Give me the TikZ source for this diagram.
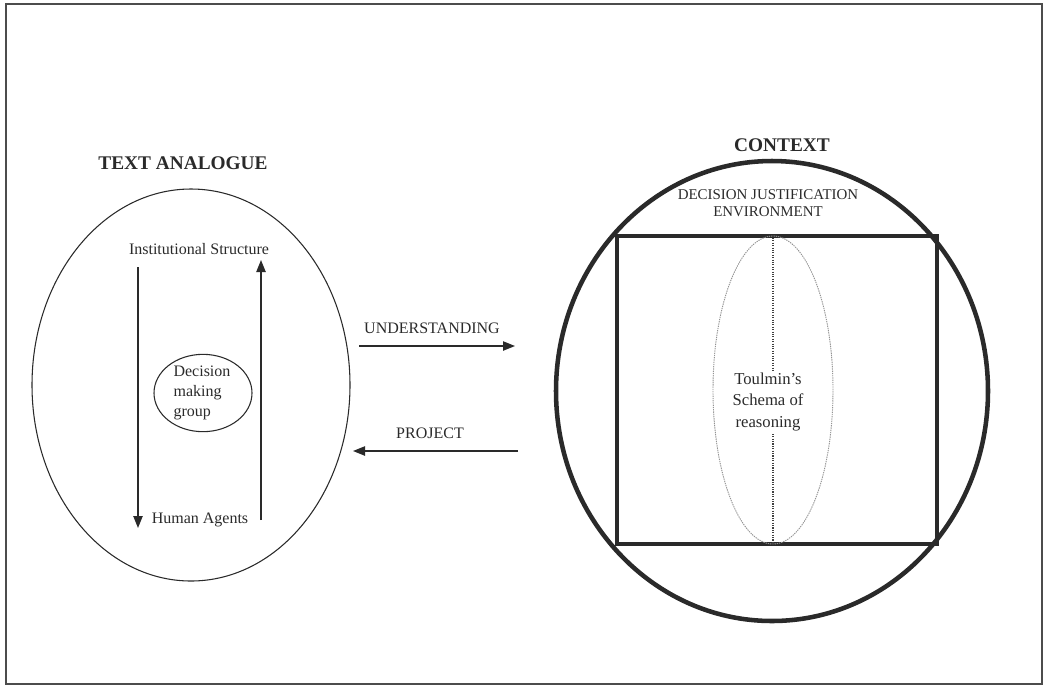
\documentclass[tikz,border=0pt]{standalone}
\usepackage{fontspec}
\setmainfont{Liberation Serif}
\usetikzlibrary{shapes.geometric,arrows.meta,positioning}
\definecolor{ink}{HTML}{2A2A2A}
\begin{document}
\begin{tikzpicture}[x=0.75pt,y=-0.75pt,
    every node/.style={text=ink, font=\fontsize{12}{15}\selectfont},
    title/.style={font=\fontsize{14.5}{17}\selectfont\bfseries},
    thinline/.style={draw=ink, line width=0.8pt},
    thickline/.style={draw=ink, line width=3.4pt},
    flow/.style={draw=ink, line width=1pt, -{Triangle[length=9pt,width=7pt]}}]
  \useasboundingbox (0,0) rectangle (1046,687);
  \draw[gray!60!black, line width=1.2pt] (6,4) rectangle (1042,684);

  % text analogue
  \node[title] (analogue) at (183,163) {TEXT ANALOGUE};
  \node[ellipse, thinline, inner sep=0pt, minimum width=238.5pt, minimum height=294pt] (text) at (191,385) {};
  \node (inst) at (199,249) {Institutional Structure};
  \node (agents) at (200,520) {Human Agents};
  \node[ellipse, thinline, inner sep=0pt, minimum width=73.5pt, minimum height=58pt] (groupring) at (203,393) {};
  \node[align=left] (group) at (202,393) {Decision\\making\\group};
  \coordinate (downtop) at (138,267);
  \coordinate (downend) at (138,528);
  \coordinate (upstart) at (261,520);
  \coordinate (uptip) at (261,260);
  \draw[flow] (downtop) -- (downend);
  \draw[flow] (upstart) -- (uptip);

  % between the two
  \coordinate (u1) at (359,346);
  \coordinate (u2) at (515,346);
  \coordinate (p1) at (518,451);
  \coordinate (p2) at (353,451);
  \draw[flow] (u1) -- (u2);
  \draw[flow] (p1) -- (p2);
  \node (understand) at (432,328) {UNDERSTANDING};
  \node (project) at (430,433) {PROJECT};

  % context
  \node[title] (contextlabel) at (782,145) {CONTEXT};
  \node[ellipse, thickline, inner sep=0pt, minimum width=324pt, minimum height=345pt] (context) at (772,391) {};
  \node[draw=ink, line width=3pt, inner sep=0pt, minimum width=240pt, minimum height=231pt] (env) at (777,390) {};
  \node[font=\fontsize{11.2}{12.75}\selectfont, align=center] (envlabel) at (768,203) {DECISION JUSTIFICATION\\ENVIRONMENT};
  \node[ellipse, draw=gray!85, dash pattern=on 1pt off 0.7pt, line width=0.7pt, inner sep=0pt, minimum width=90pt, minimum height=231pt] (schema) at (773,390) {};
  \node[align=center, inner sep=2pt, font=\fontsize{12.5}{16}\selectfont] (toulmin) at (768,402) {Toulmin's\\Schema of\\reasoning};
  \draw[gray!50!black, densely dotted, line width=0.8pt] (schema.north) -- (toulmin.north -| schema.north)
    (toulmin.south -| schema.south) -- (schema.south);
\end{tikzpicture}
\end{document}
